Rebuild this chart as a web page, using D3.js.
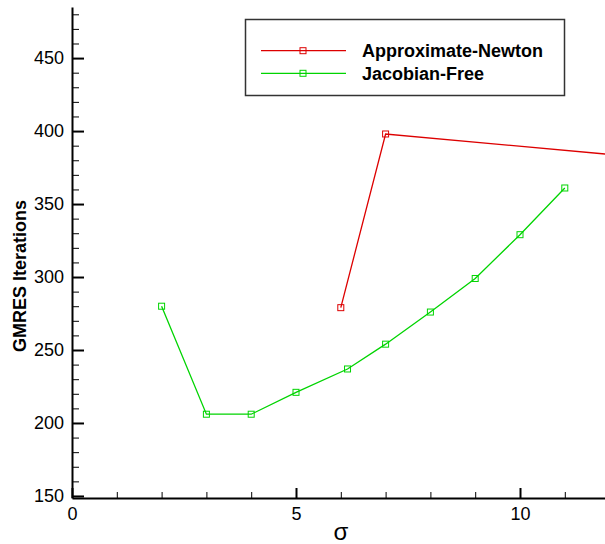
<!DOCTYPE html>
<html>
<head>
<meta charset="utf-8">
<script src="https://cdn.jsdelivr.net/npm/d3@7"></script>
<style>
  body { margin: 0; background: #fff; }
  svg { display: block; font-family: "Liberation Sans", Arial, sans-serif; }
  .axis text { font-size: 18px; fill: #000; }
  .axis path, .axis line { stroke: #000; }
</style>
</head>
<body>
<script>
// data
const sigmaAN = [6, 7, 12];
const itersAN = [279, 398, 384];
const sigmaJF = [2, 3, 4, 5, 6.15, 7, 8, 9, 10, 11];
const itersJF = [280, 206, 206, 221, 237, 254, 276, 299, 329, 361];

const xTicks = [0, 5, 10];
const yTicks = [150, 200, 250, 300, 350, 400, 450];
const seriesNames = ["Approximate-Newton", "Jacobian-Free"];
const seriesColors = ["#dd0000", "#00d400"];

const w = 605;
const h = 544;

const x = d3.scaleLinear().domain([0, 12]).range([72, 609.6]);
const y = d3.scaleLinear().domain([148.6, 485]).range([498, 7]);

const svg = d3.select("body").append("svg").attr("width", w).attr("height", h);

// minor ticks
const xMinor = d3.range(1, 12).filter((v) => v % 5 !== 0);
const yMinor = d3.range(160, 485, 10).filter((v) => v % 50 !== 0);

svg
  .append("g")
  .attr("class", "axis")
  .attr("transform", `translate(0, ${y(148.6)})`)
  .call(d3.axisBottom(x).tickValues(xMinor).tickSizeInner(-6).tickSizeOuter(0).tickFormat(""))
  .call((g) => g.select(".domain").remove())
  .selectAll("line")
  .attr("stroke-width", 1);

svg
  .append("g")
  .attr("class", "axis")
  .attr("transform", `translate(${x(0)}, 0)`)
  .call(d3.axisLeft(y).tickValues(yMinor).tickSizeInner(-7).tickSizeOuter(0).tickFormat(""))
  .call((g) => g.select(".domain").remove())
  .selectAll("line")
  .attr("stroke-width", 1);

const xAxis = svg
  .append("g")
  .attr("class", "axis")
  .attr("id", "x-axis")
  .attr("transform", `translate(0, ${y(148.6)})`)
  .call(d3.axisBottom(x).tickValues(xTicks).tickSizeInner(-10).tickSizeOuter(0).tickPadding(9));
xAxis.select(".domain").attr("stroke-width", 2);
xAxis.selectAll(".tick line").attr("stroke-width", 2);
xAxis.selectAll("text").attr("font-family", "Liberation Sans, Arial, sans-serif");

const yAxis = svg
  .append("g")
  .attr("class", "axis")
  .attr("id", "y-axis")
  .attr("transform", `translate(${x(0)}, 0)`)
  .call(d3.axisLeft(y).tickValues(yTicks).tickSizeInner(-12).tickSizeOuter(0).tickPadding(8));
yAxis.select(".domain").attr("stroke-width", 2);
yAxis.selectAll(".tick line").attr("stroke-width", 2);
yAxis.selectAll("text").attr("font-family", "Liberation Sans, Arial, sans-serif");

// axis titles
svg
  .append("text")
  .attr("x", (x(0) + x(12)) / 2)
  .attr("y", 540)
  .attr("text-anchor", "middle")
  .attr("font-size", 24)
  .text("σ");

svg
  .append("text")
  .attr("transform", "translate(26, 276) rotate(-90)")
  .attr("text-anchor", "middle")
  .attr("font-size", 18)
  .attr("font-weight", "bold")
  .text("GMRES Iterations");

// series
const line = d3
  .line()
  .x((d) => x(d[0]))
  .y((d) => y(d[1]));

const series = [d3.zip(sigmaAN, itersAN), d3.zip(sigmaJF, itersJF)];

series.forEach((pts, i) => {
  svg
    .append("path")
    .datum(pts)
    .attr("d", line)
    .attr("fill", "none")
    .attr("stroke", seriesColors[i])
    .attr("stroke-width", 1.3);

  svg
    .selectAll(".m" + i)
    .data(pts)
    .enter()
    .append("rect")
    .attr("class", "m" + i)
    .attr("x", (d) => x(d[0]) - 3)
    .attr("y", (d) => y(d[1]) - 3)
    .attr("width", 6)
    .attr("height", 6)
    .attr("fill", "none")
    .attr("stroke", seriesColors[i])
    .attr("stroke-width", 1);
});

// legend
const legend = svg.append("g");
legend
  .append("rect")
  .attr("x", 245.5)
  .attr("y", 19.5)
  .attr("width", 319)
  .attr("height", 76)
  .attr("fill", "#fff")
  .attr("stroke", "#333")
  .attr("stroke-width", 1.5);

seriesNames.forEach((name, i) => {
  const ly = 50.7 + i * 22.6;
  legend
    .append("line")
    .attr("x1", 261)
    .attr("x2", 346)
    .attr("y1", ly)
    .attr("y2", ly)
    .attr("stroke", seriesColors[i])
    .attr("stroke-width", 1.3);
  legend
    .append("rect")
    .attr("x", 300)
    .attr("y", ly - 3)
    .attr("width", 6)
    .attr("height", 6)
    .attr("fill", "none")
    .attr("stroke", seriesColors[i]);
  legend
    .append("text")
    .attr("x", 362)
    .attr("y", ly + 6.3)
    .attr("font-size", 18)
    .attr("font-weight", "bold")
    .text(name);
});
</script>
</body>
</html>
